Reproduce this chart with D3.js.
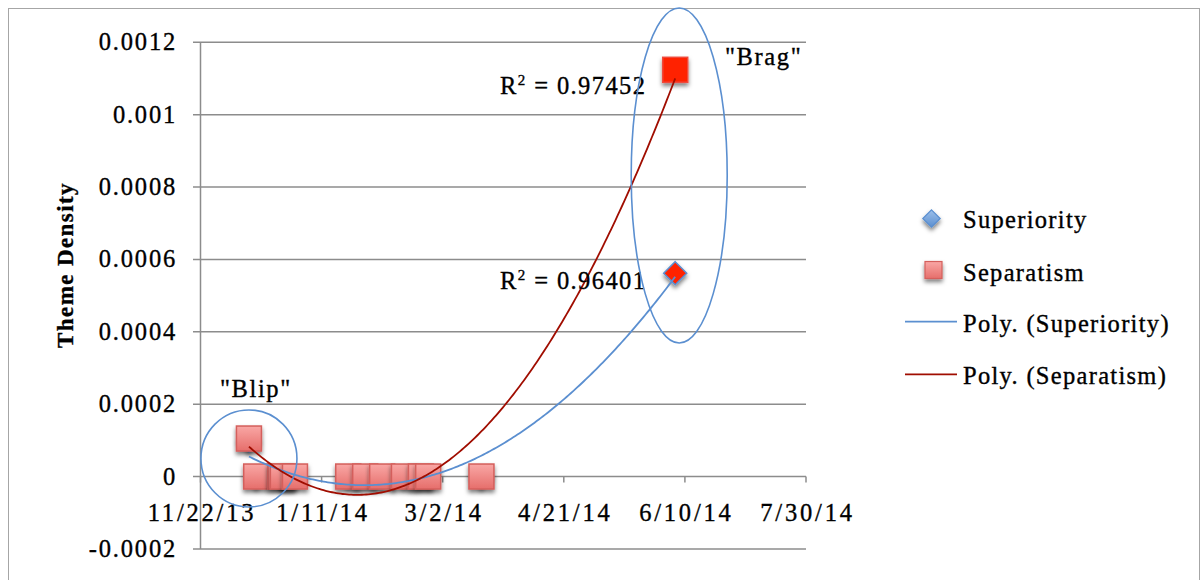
<!DOCTYPE html>
<html>
<head>
<meta charset="utf-8">
<script src="https://cdn.jsdelivr.net/npm/d3@7"></script>
<style>
  html, body { margin: 0; padding: 0; background: #fff; }
  svg { display: block; }
  text { font-family: "Liberation Serif", "Times New Roman", serif; fill: #000; stroke: #000; stroke-width: 0.35px; }
</style>
</head>
<body>
<svg id="chart" width="1202" height="580"></svg>
<script>
// Observation dates (shared by both themes)
const dates = ["2013-12-12", "2013-12-15", "2013-12-25", "2013-12-26", "2013-12-31",
  "2014-01-22", "2014-01-29", "2014-02-05", "2014-02-14", "2014-02-21",
  "2014-02-24", "2014-03-18", "2014-06-06"];
// Theme density per date
const superiority = [0.000100, 0, 0, 0, 0, 0, 0, 0, 0, 0, 0, 0, 0.000562];
const separatism  = [0.000105, 0, 0, 0, 0, 0, 0, 0, 0, 0, 0, 0, 0.001124];
// Points singled out in red
const highlighted = ["2014-06-06"];
// Axis ticks
const xTickDates = ["2013-11-22", "2014-01-11", "2014-03-02", "2014-04-21", "2014-06-10", "2014-07-30"];
const yTicks = [-0.0002, 0, 0.0002, 0.0004, 0.0006, 0.0008, 0.001, 0.0012];
// Goodness of fit shown next to each trendline
const r2Labels = { superiority: "0.96401", separatism: "0.97452" };
const seriesNames = ["Superiority", "Separatism"];

const parse = d3.timeParse("%Y-%m-%d");
const fmt = d3.timeFormat("%-m/%-d/%y");
const svg = d3.select("#chart");

const x = d3.scaleTime()
  .domain([parse(xTickDates[0]), parse(xTickDates[xTickDates.length - 1])])
  .range([200.5, 806]);
const y = d3.scaleLinear()
  .domain([yTicks[0], yTicks[yTicks.length - 1]])
  .range([548.9, 42.3]);

const defs = svg.append("defs");
const sq = defs.append("linearGradient").attr("id", "sqFill")
  .attr("x1", 0).attr("y1", 0).attr("x2", 0).attr("y2", 1);
sq.append("stop").attr("offset", "0%").attr("stop-color", "#F9A7A5");
sq.append("stop").attr("offset", "100%").attr("stop-color", "#E66E6B");
const dm = defs.append("linearGradient").attr("id", "dmFill")
  .attr("x1", 0).attr("y1", 0).attr("x2", 0).attr("y2", 1);
dm.append("stop").attr("offset", "0%").attr("stop-color", "#9DC0EA");
dm.append("stop").attr("offset", "100%").attr("stop-color", "#5B8FD0");
const sh = defs.append("filter").attr("id", "shadow")
  .attr("x", "-40%").attr("y", "-40%").attr("width", "180%").attr("height", "190%");
sh.append("feDropShadow").attr("dx", 0).attr("dy", 3).attr("stdDeviation", 2.2)
  .attr("flood-color", "#000").attr("flood-opacity", 0.5);

// Chart frame
svg.append("rect").attr("x", 8.5).attr("y", 8.5).attr("width", 1191).attr("height", 600)
  .attr("fill", "none").attr("stroke", "#A6A6A6").attr("stroke-width", 1);

// Horizontal gridlines and y axis
const grid = svg.append("g");
grid.selectAll("line").data(yTicks).join("line")
  .attr("x1", 193).attr("x2", 806)
  .attr("y1", d => y(d)).attr("y2", d => y(d))
  .attr("stroke", "#8C8C8C").attr("stroke-width", 1.5);
svg.append("line").attr("x1", 200.5).attr("x2", 200.5)
  .attr("y1", y(yTicks[yTicks.length - 1])).attr("y2", y(yTicks[0]))
  .attr("stroke", "#8C8C8C").attr("stroke-width", 1.5);
svg.append("g").selectAll("text").data(yTicks).join("text")
  .attr("x", 177).attr("y", d => y(d) + 8)
  .attr("text-anchor", "end")
  .attr("font-size", 24.5).attr("letter-spacing", 1.8)
  .text(d => String(+d.toFixed(4)));

// Date axis ticks on the zero line
const xt = xTickDates.map(parse);
svg.append("g").selectAll("line").data(xt).join("line")
  .attr("x1", d => x(d)).attr("x2", d => x(d))
  .attr("y1", y(0)).attr("y2", y(0) + 6)
  .attr("stroke", "#8C8C8C").attr("stroke-width", 1.5);
svg.append("g").selectAll("text").data(xt).join("text")
  .attr("x", d => x(d) + 1.5).attr("y", y(0) + 44)
  .attr("text-anchor", "middle")
  .attr("font-size", 24.5).attr("letter-spacing", 2.8)
  .text(d => fmt(d));

// Axis title
svg.append("text")
  .attr("transform", "translate(73,265) rotate(-90)")
  .attr("text-anchor", "middle")
  .attr("font-size", 23).attr("font-weight", "bold").attr("letter-spacing", 1.4)
  .text("Theme Density");

// Least-squares quadratic fit, evaluated on the data's date span
function polyFit(ts, vs) {
  const t0 = d3.mean(ts), s = 100;
  const u = ts.map(t => (t - t0) / s);
  const S = [0, 0, 0, 0, 0], T = [0, 0, 0];
  u.forEach((ui, i) => {
    for (let k = 0; k < 5; k++) S[k] += ui ** k;
    for (let k = 0; k < 3; k++) T[k] += vs[i] * ui ** k;
  });
  const A = [[S[0], S[1], S[2], T[0]], [S[1], S[2], S[3], T[1]], [S[2], S[3], S[4], T[2]]];
  for (let c = 0; c < 3; c++) {
    for (let r = c + 1; r < 3; r++) {
      const f = A[r][c] / A[c][c];
      for (let k = c; k < 4; k++) A[r][k] -= f * A[c][k];
    }
  }
  const b = [0, 0, 0];
  for (let r = 2; r >= 0; r--) {
    let acc = A[r][3];
    for (let k = r + 1; k < 3; k++) acc -= A[r][k] * b[k];
    b[r] = acc / A[r][r];
  }
  return t => { const v = (t - t0) / s; return b[0] + b[1] * v + b[2] * v * v; };
}

const dts = dates.map(parse);
const tnum = dts.map(d => +d / 864e5);
const line = d3.line().x(d => x(d[0])).y(d => y(d[1])).curve(d3.curveLinear);
function trend(vals) {
  const f = polyFit(tnum, vals);
  const [a, b] = d3.extent(tnum);
  return d3.range(0, 201).map(i => {
    const t = a + (b - a) * i / 200;
    return [new Date(t * 864e5), f(t)];
  });
}

// Superiority markers (diamonds)
const diamond = (cx, cy, r) => `M${cx},${cy - r}L${cx + r},${cy}L${cx},${cy + r}L${cx - r},${cy}Z`;
const supPts = dts.map((d, i) => ({ d, v: superiority[i], hi: highlighted.includes(dates[i]) }));
svg.append("g").selectAll("path").data(supPts).join("path")
  .attr("d", p => diamond(x(p.d), y(p.v), 11.5))
  .attr("fill", p => p.hi ? "#FF2200" : "url(#dmFill)")
  .attr("stroke", "#5B8FD0").attr("stroke-width", 1.5)
  .attr("filter", "url(#shadow)");

// Separatism markers (squares)
const sepPts = dts.map((d, i) => ({ d, v: separatism[i], hi: highlighted.includes(dates[i]) }));
svg.append("g").selectAll("rect").data(sepPts).join("rect")
  .attr("x", p => x(p.d) - 12.5).attr("y", p => y(p.v) - 12.5)
  .attr("width", 25).attr("height", 25)
  .attr("fill", p => p.hi ? "#FF2200" : "url(#sqFill)")
  .attr("stroke", p => p.hi ? "#F04A3A" : "#D45F5C").attr("stroke-width", 1.5)
  .attr("filter", "url(#shadow)");

// Polynomial trendlines
svg.append("path").datum(trend(superiority)).attr("d", line)
  .attr("fill", "none").attr("stroke", "#5B8FD0").attr("stroke-width", 1.8);
svg.append("path").datum(trend(separatism)).attr("d", line)
  .attr("fill", "none").attr("stroke", "#A00D00").attr("stroke-width", 1.8);

// R-squared labels
function r2(yPos, val) {
  const t = svg.append("text").attr("x", 500).attr("y", yPos)
    .attr("font-size", 24.5).attr("letter-spacing", 1.4);
  t.append("tspan").text("R");
  t.append("tspan").attr("dy", -9).attr("font-size", 15).text("2");
  t.append("tspan").attr("dy", 9).text(" = " + val);
}
r2(93.5, r2Labels.separatism);
r2(288.5, r2Labels.superiority);

// Callout ellipses and labels
const blipDate = parse(dates[0]), bragDate = parse(highlighted[0]);
svg.append("ellipse")
  .attr("cx", x(blipDate)).attr("cy", y(0.00005)).attr("rx", 48).attr("ry", 48.5)
  .attr("fill", "none").attr("stroke", "#5B8FD0").attr("stroke-width", 1.6);
svg.append("ellipse")
  .attr("cx", x(bragDate) + 4).attr("cy", y(0.000832)).attr("rx", 48).attr("ry", 167.5)
  .attr("fill", "none").attr("stroke", "#5B8FD0").attr("stroke-width", 1.6);
svg.append("text").attr("x", 220).attr("y", 397)
  .attr("font-size", 24.5).attr("letter-spacing", 1.6).text("\"Blip\"");
svg.append("text").attr("x", 725).attr("y", 65)
  .attr("font-size", 24.5).attr("letter-spacing", 1.6).text("\"Brag\"");

// Legend
const lg = svg.append("g");
lg.append("path").attr("d", diamond(931.5, 218.5, 8.7))
  .attr("fill", "url(#dmFill)").attr("stroke", "#5B8FD0").attr("stroke-width", 1.2)
  .attr("filter", "url(#shadow)");
lg.append("rect").attr("x", 925).attr("y", 261.5).attr("width", 17).attr("height", 17)
  .attr("fill", "url(#sqFill)").attr("stroke", "#D45F5C").attr("stroke-width", 1.2)
  .attr("filter", "url(#shadow)");
lg.append("line").attr("x1", 905).attr("x2", 957).attr("y1", 321.7).attr("y2", 321.7)
  .attr("stroke", "#5B8FD0").attr("stroke-width", 1.8);
lg.append("line").attr("x1", 905).attr("x2", 957).attr("y1", 374.3).attr("y2", 374.3)
  .attr("stroke", "#A00D00").attr("stroke-width", 1.8);
const legendLabels = [seriesNames[0], seriesNames[1],
  `Poly. (${seriesNames[0]})`, `Poly. (${seriesNames[1]})`];
lg.selectAll("text.lbl").data(legendLabels).join("text").attr("class", "lbl")
  .attr("x", 963).attr("y", (d, i) => [227.5, 280.5, 331.5, 384.3][i])
  .attr("font-size", 24.5).attr("letter-spacing", 1.3)
  .text(d => d);
</script>
</body>
</html>
